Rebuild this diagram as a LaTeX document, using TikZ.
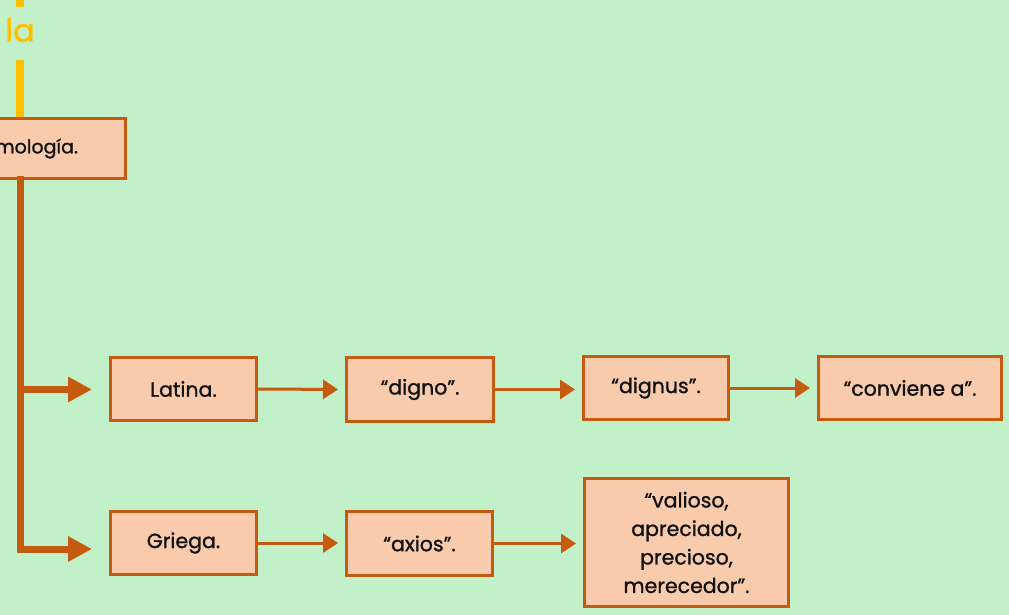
\documentclass[tikz,border=0pt]{standalone}
\usepackage{fontspec}
\setmainfont{Poppins}[FakeBold=1.2]
\usetikzlibrary{arrows.meta}
\definecolor{bg}{HTML}{C2F0C8}
\definecolor{brn}{HTML}{C55A11}
\definecolor{boxfill}{HTML}{F8CBAD}
\definecolor{yel}{HTML}{FFC000}
\definecolor{txt}{HTML}{111111}
\tikzset{
  box/.style={draw=brn, line width=3pt, fill=boxfill, text=txt, font=\fontsize{20.5}{28.5}\selectfont, align=center, inner sep=0pt},
  thin/.style={draw=brn, line width=3pt, -{Triangle[length=15pt,width=19pt]}, shorten >=7pt},
  thick/.style={draw=brn, line width=7pt, -{Triangle[length=24pt,width=24pt]}, shorten >=17pt},
  yl/.style={draw=yel, line width=8pt},
}
\begin{document}
\begin{tikzpicture}[x=1pt,y=-1pt]
\fill[bg] (0,0) rectangle (1009,615);
\useasboundingbox (0,0) rectangle (1009,615);
\clip (0,0) rectangle (1009,615);
% yellow
\coordinate (y0) at (20,0);
\coordinate (y1) at (20,7);
\coordinate (y2) at (20,60);
\node[text=yel, font=\fontsize{32}{36}\selectfont, inner sep=0pt] (la) at (20,30) {la};
% etymology box
\node[box, font=\fontsize{19}{24}\selectfont, anchor=north east, minimum height=59pt, text width=200pt, align=right, inner xsep=47pt] (ety) at (126.5,117.5) {Etimología.};
\draw[yl] (y0) -- (y1);
\draw[yl] (y2) -- (y2 |- ety.north);
% main trunk
\coordinate (t0) at (20.5,176);
\coordinate (tl) at (20.5,389.5);
\coordinate (tg) at (17,549);
\draw[brn, line width=7pt] (t0) -- (20.5,552.5);
% boxes
\node[box, minimum width=146pt, minimum height=63pt] (lat) at (183.5,389) {Latina.};
\node[box, minimum width=147pt, minimum height=64pt] (dig) at (420,389.5) {“digno”.};
\node[box, minimum width=145pt, minimum height=63pt] (dgs) at (656,388) {“dignus”.};
\node[box, minimum width=183pt, minimum height=63pt] (conv) at (910,388) {“conviene a”.};
\node[box, minimum width=146pt, minimum height=63pt] (gri) at (183.5,543) {Griega.};
\node[box, minimum width=146pt, minimum height=64pt] (axi) at (419.5,543.5) {“axios”.};
\node[box, minimum width=204pt, minimum height=128pt] (val) at (686.5,542.5) {“valioso,\\apreciado,\\precioso,\\merecedor”.};
% thick arrows
\draw[thick] (tl) -- (lat.west |- tl);
\draw[thick] (tg) -- (gri.west |- tg);
% thin arrows
\draw[thin] (lat.east) -- (dig.west);
\draw[thin] (dig.east) -- (dgs.west |- dig.east);
\draw[thin] (dgs.east) -- (conv.west);
\draw[thin] (gri.east) -- (axi.west |- gri.east);
\draw[thin] (axi.east) -- (val.west |- axi.east);
\end{tikzpicture}
\end{document}
